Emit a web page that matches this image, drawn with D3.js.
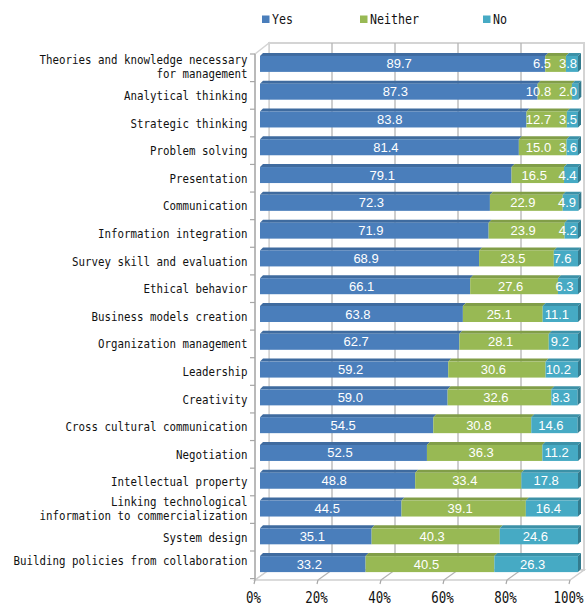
<!DOCTYPE html>
<meta charset="utf-8">
<title>Skills survey - stacked 3D bars</title>
<style>
  body { margin: 0; background: #fff; }
  .mono { font-family: "DejaVu Sans Mono", "Liberation Mono", monospace; fill: #111; }
  .val { font-family: "Liberation Sans", Arial, sans-serif; font-size: 13px; fill: #fff; }
</style>
<body>
<script src="https://cdn.jsdelivr.net/npm/d3@7"></script>
<script>

var width = 587,
    height = 606;

var categories = [
  "Theories and knowledge necessary\nfor management",
  "Analytical thinking",
  "Strategic thinking",
  "Problem solving",
  "Presentation",
  "Communication",
  "Information integration",
  "Survey skill and evaluation",
  "Ethical behavior",
  "Business models creation",
  "Organization management",
  "Leadership",
  "Creativity",
  "Cross cultural communication",
  "Negotiation",
  "Intellectual property",
  "Linking technological\ninformation to commercialization",
  "System design",
  "Building policies from collaboration"
];
var yes     = [89.7, 87.3, 83.8, 81.4, 79.1, 72.3, 71.9, 68.9, 66.1, 63.8, 62.7, 59.2, 59.0, 54.5, 52.5, 48.8, 44.5, 35.1, 33.2];
var neither = [6.5, 10.8, 12.7, 15.0, 16.5, 22.9, 23.9, 23.5, 27.6, 25.1, 28.1, 30.6, 32.6, 30.8, 36.3, 33.4, 39.1, 40.3, 40.5];
var no      = [3.8, 2.0, 3.5, 3.6, 4.4, 4.9, 4.2, 7.6, 6.3, 11.1, 9.2, 10.2, 8.3, 14.6, 11.2, 17.8, 16.4, 24.6, 26.3];
var seriesNames = ["Yes", "Neither", "No"];
var ticks = [0, 20, 40, 60, 80, 100];

var colors = ["#4a7ebb", "#98b954", "#46aac4"];

var rows = categories.map(function(c, i) {
  return {cat: c, Yes: yes[i], Neither: neither[i], No: no[i]};
});
var stacked = d3.stack().keys(seriesNames)(rows);

var svg = d3.select("body").append("svg")
    .attr("width", width)
    .attr("height", height);

// three planes of the 3d box
var x = d3.scaleLinear().domain([0, 100]).range([260, 578]);      // bar fronts
var xFloor = d3.scaleLinear().domain([0, 100]).range([255, 570]); // floor front edge
var xWall = d3.scaleLinear().domain([0, 100]).range([269, 584]);  // back wall
var y = d3.scaleBand().domain(categories).range([49, 577]);        // bars
var yLab = d3.scaleBand().domain(categories).range([54, 578.6]);   // labels / ticks

var wallTop = 43, wallBottom = 570, frontTop = 54, frontBottom = 580;

// back wall
svg.append("rect")
  .attr("x", xWall(0)).attr("y", wallTop)
  .attr("width", xWall(100) - xWall(0)).attr("height", wallBottom - wallTop)
  .attr("fill", "#fff").attr("stroke", "#d4d4d4").attr("stroke-width", 2);

// side wall
svg.append("path")
  .attr("d", "M" + [xFloor(0), frontTop] + "L" + [xWall(0), wallTop] + "L" + [xWall(0), wallBottom] + "L" + [xFloor(0), frontBottom] + "Z")
  .attr("fill", "#fff").attr("stroke", "#d4d4d4").attr("stroke-width", 1.5);

// floor
svg.append("path")
  .attr("d", "M" + [xFloor(0), frontBottom] + "L" + [xWall(0), wallBottom] + "L" + [xWall(100), wallBottom] + "L" + [xFloor(100), frontBottom] + "Z")
  .attr("fill", "#fff").attr("stroke", "#cfcfcf").attr("stroke-width", 1.5);

// gridlines on wall and floor
svg.selectAll(".grid").data(ticks.slice(1, 5)).enter().append("path")
  .attr("class", "grid")
  .attr("d", function(t) {
    return "M" + [xWall(t), wallTop] + "L" + [xWall(t), wallBottom] + "L" + [xFloor(t), frontBottom];
  })
  .attr("fill", "none").attr("stroke", "#b4b4b4").attr("stroke-width", 1.3);

// little ticks below floor edge
svg.selectAll(".xtick").data(ticks).enter().append("line")
  .attr("x1", function(t) { return xFloor(t); }).attr("x2", function(t) { return xFloor(t) - 1; })
  .attr("y1", frontBottom).attr("y2", frontBottom + 4)
  .attr("stroke", "#a6a6a6").attr("stroke-width", 1.2);

// left axis line and ticks
svg.append("line")
  .attr("x1", xFloor(0)).attr("x2", xFloor(0))
  .attr("y1", frontTop).attr("y2", frontBottom)
  .attr("stroke", "#a6a6a6").attr("stroke-width", 1.3);

var tickYs = categories.map(function(c) { return yLab(c); }).concat([yLab.range()[1]]);
svg.selectAll(".ytick").data(tickYs).enter().append("line")
  .attr("x1", xFloor(0) - 5).attr("x2", xFloor(0))
  .attr("y1", function(d) { return d; }).attr("y2", function(d) { return d; })
  .attr("stroke", "#a6a6a6").attr("stroke-width", 1.2);

// bars
var dx = 3, dy = 3;
stacked.forEach(function(layer, k) {
  var g = svg.append("g").attr("class", "series " + layer.key);
  var col = d3.color(colors[k]);
  layer.forEach(function(d, i) {
    var c = y(categories[i]) + y.bandwidth() / 2;
    var x0 = x(d[0]), x1 = x(d[1]);
    var top = c - 7, bot = c + 9;
    g.append("path")
      .attr("d", "M" + [x0, top] + "L" + [x0 + dx, top - dy] + "L" + [x1 + dx, top - dy] + "L" + [x1, top] + "Z")
      .attr("fill", col.darker(0.45));
    g.append("rect")
      .attr("x", x0).attr("y", top)
      .attr("width", x1 - x0).attr("height", bot - top)
      .attr("fill", col);
    if (k == seriesNames.length - 1) {
      g.append("path")
        .attr("d", "M" + [x1, top] + "L" + [x1 + dx, top - dy] + "L" + [x1 + dx, bot - dy] + "L" + [x1, bot] + "Z")
        .attr("fill", col.darker(0.9));
    }
  });
});

// value labels, nudged left so small segments don't collide
var fmt = d3.format(".1f");
rows.forEach(function(r, i) {
  var c = y(categories[i]) + y.bandwidth() / 2;
  var labs = stacked.map(function(layer) {
    var d = layer[i];
    var txt = fmt(d[1] - d[0]);
    var w = txt.length == 4 ? 25 : 18;
    return {txt: txt, cx: (x(d[0]) + x(d[1])) / 2 - 3.5, w: w};
  });
  var limit = 577;
  for (var j = labs.length - 1; j >= 0; j--) {
    var right = labs[j].cx + labs[j].w / 2;
    if (right > limit) labs[j].cx = limit - labs[j].w / 2;
    limit = labs[j].cx - labs[j].w / 2 - 8;
  }
  labs.forEach(function(l) {
    svg.append("text").attr("class", "val")
      .attr("x", l.cx).attr("y", c + 5.5)
      .attr("text-anchor", "middle")
      .text(l.txt);
  });
});

// category labels
function monoText(sel, str, size) {
  sel.attr("class", "mono")
    .style("font-size", size + "px")
    .attr("textLength", str.length * size * 0.5)
    .attr("lengthAdjust", "spacingAndGlyphs")
    .text(str);
}

categories.forEach(function(c) {
  var lines = c.split("\n");
  var mid = yLab(c) + yLab.bandwidth() / 2;
  var base = lines.length > 1 ? mid + 3.5 : Math.min(mid + 4.5, 564.5);
  lines.forEach(function(line, j) {
    var yy = base + (j - (lines.length - 1) / 2) * 13.8;
    svg.append("text")
      .attr("x", 247.5).attr("y", yy)
      .attr("text-anchor", "end")
      .call(monoText, line, 13);
  });
});

// x axis labels (last one kept inside the frame)
ticks.forEach(function(t) {
  var lx = Math.min(xFloor(t) - 1.5, 569);
  svg.append("text")
    .attr("x", lx).attr("y", 603)
    .attr("text-anchor", "middle")
    .call(monoText, t + "%", 15);
});

// legend
var legendX = [262, 360, 483];
seriesNames.forEach(function(s, k) {
  svg.append("rect")
    .attr("x", legendX[k]).attr("y", 15.5)
    .attr("width", 7.5).attr("height", 7.5)
    .attr("fill", colors[k]);
  svg.append("text")
    .attr("x", legendX[k] + 10).attr("y", 23.5)
    .call(monoText, s, 14);
});

</script>
